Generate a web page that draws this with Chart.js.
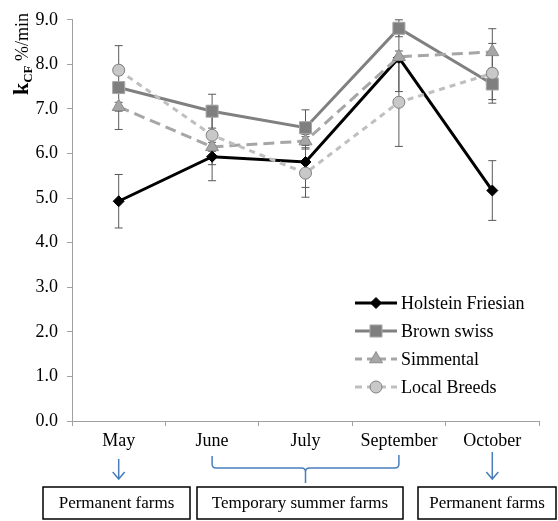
<!DOCTYPE html>
<html>
<head>
<meta charset="utf-8">
<script src="https://cdn.jsdelivr.net/npm/chart.js@4/dist/chart.umd.min.js"></script>
<style>
  body { margin: 0; background: #fff; }
  #wrap { width: 558px; height: 521px; }
</style>
</head>
<body>
<div id="wrap"><canvas id="kcf" width="558" height="521"></canvas></div>
<script>
// months sampled
const months = ['May', 'June', 'July', 'September', 'October'];

// kCF values (%/min) per breed
const holstein = [4.93, 5.93, 5.81, 8.15, 5.17];
const brownSwiss = [7.48, 6.95, 6.58, 8.81, 7.56];
const simmental = [7.05, 6.15, 6.28, 8.17, 8.28];
const localBreeds = [7.87, 6.41, 5.56, 7.15, 7.80];

// error bar half-widths
const holsteinErr = [0.60, 0.54, 0.57, 0.76, 0.67];
const brownSwissErr = [0.94, 0.38, 0.40, 0.19, 0.35];
const simmentalErr = [0.10, 0.10, 0.15, 0.13, 0.52];
const localBreedsErr = [0.10, 0.66, 0.54, 0.99, 0.67];

const yTicks = [0, 1, 2, 3, 4, 5, 6, 7, 8, 9];
const farmLabels = ['Permanent farms', 'Temporary summer farms', 'Permanent farms'];

const serif = '"Liberation Serif", "Times New Roman", serif';

const series = [
  { label: 'Holstein Friesian', data: holstein, err: holsteinErr, color: '#000000', dash: [],
    style: 'rectRot', radius: 5.5, fill: '#000000', border: '#000000', order: 4 },
  { label: 'Brown swiss', data: brownSwiss, err: brownSwissErr, color: '#808080', dash: [],
    style: 'rect', radius: 8.5, fill: '#7f7f7f', border: '#a6a6a6', order: 3 },
  { label: 'Simmental', data: simmental, err: simmentalErr, color: '#a6a6a6', dash: [11, 6],
    style: 'triangle', radius: 7.5, fill: '#a6a6a6', border: '#8c8c8c', order: 2 },
  { label: 'Local Breeds', data: localBreeds, err: localBreedsErr, color: '#bfbfbf', dash: [6, 5],
    style: 'circle', radius: 6, fill: '#c8c8c8', border: '#7f7f7f', order: 1 }
];

// error bars under the markers
const errorBars = {
  id: 'errorBars',
  beforeDatasetsDraw(chart) {
    const ctx = chart.ctx;
    const y = chart.scales.y;
    ctx.save();
    ctx.strokeStyle = '#595959';
    ctx.lineWidth = 1;
    series.slice().reverse().forEach((s) => {
      const idx = chart.data.datasets.findIndex(d => d.label === s.label);
      const meta = chart.getDatasetMeta(idx);
      meta.data.forEach((pt, i) => {
        const top = y.getPixelForValue(s.data[i] + s.err[i]);
        const bot = y.getPixelForValue(s.data[i] - s.err[i]);
        ctx.beginPath();
        ctx.moveTo(pt.x, top); ctx.lineTo(pt.x, bot);
        ctx.moveTo(pt.x - 4, top); ctx.lineTo(pt.x + 4, top);
        ctx.moveTo(pt.x - 4, bot); ctx.lineTo(pt.x + 4, bot);
        ctx.stroke();
      });
    });
    ctx.restore();
  }
};

function drawMarker(ctx, s, x, y) {
  ctx.save();
  ctx.fillStyle = s.fill;
  ctx.strokeStyle = s.border;
  ctx.lineWidth = 1;
  ctx.setLineDash([]);
  Chart.helpers.drawPoint(ctx, { pointStyle: s.style, radius: s.radius, rotation: 0, borderWidth: 1 }, x, y);
  ctx.restore();
}

// legend, titles and the farm annotations
const extras = {
  id: 'extras',
  afterDraw(chart) {
    const ctx = chart.ctx;
    const xs = chart.scales.x;

    // legend
    ctx.save();
    series.forEach((s, i) => {
      const ly = 303 + i * 28;
      ctx.strokeStyle = s.color;
      ctx.lineWidth = 3;
      ctx.setLineDash(s.dash.length ? [7, 5] : []);
      ctx.beginPath();
      ctx.moveTo(355, ly); ctx.lineTo(397, ly);
      ctx.stroke();
      drawMarker(ctx, s, 376, ly);
      ctx.fillStyle = '#000';
      ctx.font = '18px ' + serif;
      ctx.textBaseline = 'middle';
      ctx.textAlign = 'left';
      ctx.fillText(s.label, 401, ly + 1);
    });
    ctx.restore();

    // y axis title: k_CF %/min
    ctx.save();
    const bigK = 'bold 22px ' + serif;
    const sub = 'bold 13px ' + serif;
    const rest = '18px ' + serif;
    ctx.font = bigK; const wK = ctx.measureText('k').width;
    ctx.font = sub; const wS = ctx.measureText('CF').width;
    ctx.font = rest; const wR = ctx.measureText(' %/min').width;
    const total = wK + wS + wR;
    ctx.translate(28, 54 + total / 2);
    ctx.rotate(-Math.PI / 2);
    ctx.fillStyle = '#000';
    ctx.textBaseline = 'alphabetic';
    ctx.font = bigK; ctx.fillText('k', 0, 0);
    ctx.font = sub; ctx.fillText('CF', wK, 4);
    ctx.font = rest; ctx.fillText(' %/min', wK + wS, 0);
    ctx.restore();

    // arrows and bracket
    ctx.save();
    ctx.strokeStyle = '#4a7ebb';
    ctx.lineWidth = 1.5;
    const arrow = (x, y0, y1) => {
      ctx.beginPath();
      ctx.moveTo(x, y0); ctx.lineTo(x, y1);
      ctx.moveTo(x - 6, y1 - 7); ctx.lineTo(x, y1); ctx.lineTo(x + 6, y1 - 7);
      ctx.stroke();
    };
    arrow(xs.getPixelForValue(0), 459, 479);
    arrow(xs.getPixelForValue(4), 452, 479);
    const bl = xs.getPixelForValue(1), br = xs.getPixelForValue(3), bm = xs.getPixelForValue(2);
    ctx.beginPath();
    ctx.moveTo(bl, 456); ctx.lineTo(bl, 464);
    ctx.quadraticCurveTo(bl, 468, bl + 4, 468);
    ctx.lineTo(bm - 4, 468);
    ctx.quadraticCurveTo(bm, 468, bm, 472);
    ctx.lineTo(bm, 483);
    ctx.moveTo(bm, 472);
    ctx.quadraticCurveTo(bm, 468, bm + 4, 468);
    ctx.lineTo(br - 4, 468);
    ctx.quadraticCurveTo(br, 468, br, 464);
    ctx.lineTo(br, 455);
    ctx.stroke();
    ctx.restore();

    // boxes
    ctx.save();
    const boxes = [[43, 147], [197, 206], [418, 138]];
    ctx.strokeStyle = '#000';
    ctx.lineWidth = 1.5;
    ctx.fillStyle = '#000';
    ctx.font = '17px ' + serif;
    ctx.textAlign = 'center';
    ctx.textBaseline = 'middle';
    boxes.forEach((b, i) => {
      ctx.strokeRect(b[0], 487, b[1], 32);
      ctx.fillText(farmLabels[i], b[0] + b[1] / 2, 504);
    });
    ctx.restore();
  }
};

new Chart(document.getElementById('kcf'), {
  type: 'line',
  data: {
    labels: months,
    datasets: series.map(s => ({
      label: s.label,
      data: s.data,
      borderColor: s.color,
      borderWidth: 3,
      borderDash: s.dash,
      pointStyle: s.style,
      pointRadius: s.radius,
      pointHoverRadius: s.radius,
      pointBackgroundColor: s.fill,
      pointBorderColor: s.border,
      pointBorderWidth: 1,
      tension: 0,
      fill: false,
      order: s.order
    }))
  },
  options: {
    responsive: false,
    animation: false,
    layout: { padding: { top: 16, right: 19, left: 0, bottom: 0 } },
    plugins: { legend: { display: false }, tooltip: { enabled: false } },
    scales: {
      x: {
        offset: true,
        grid: { offset: true, drawOnChartArea: false, drawTicks: true, tickLength: 5, color: '#a0a0a0' },
        border: { color: '#a0a0a0' },
        ticks: { color: '#000', font: { family: serif, size: 18 }, padding: 4, maxRotation: 0 },
        afterFit(scale) { scale.height = 100; }
      },
      y: {
        min: 0,
        max: 9,
        afterBuildTicks(scale) { scale.ticks = yTicks.map(v => ({ value: v })); },
        grid: { drawOnChartArea: false, drawTicks: true, tickLength: 5, color: '#a0a0a0' },
        border: { color: '#a0a0a0' },
        ticks: { color: '#000', font: { family: serif, size: 18 }, padding: 9,
          callback: v => Number(v).toFixed(1) },
        afterFit(scale) { scale.width = 72; }
      }
    }
  },
  plugins: [errorBars, extras]
});
</script>
</body>
</html>
